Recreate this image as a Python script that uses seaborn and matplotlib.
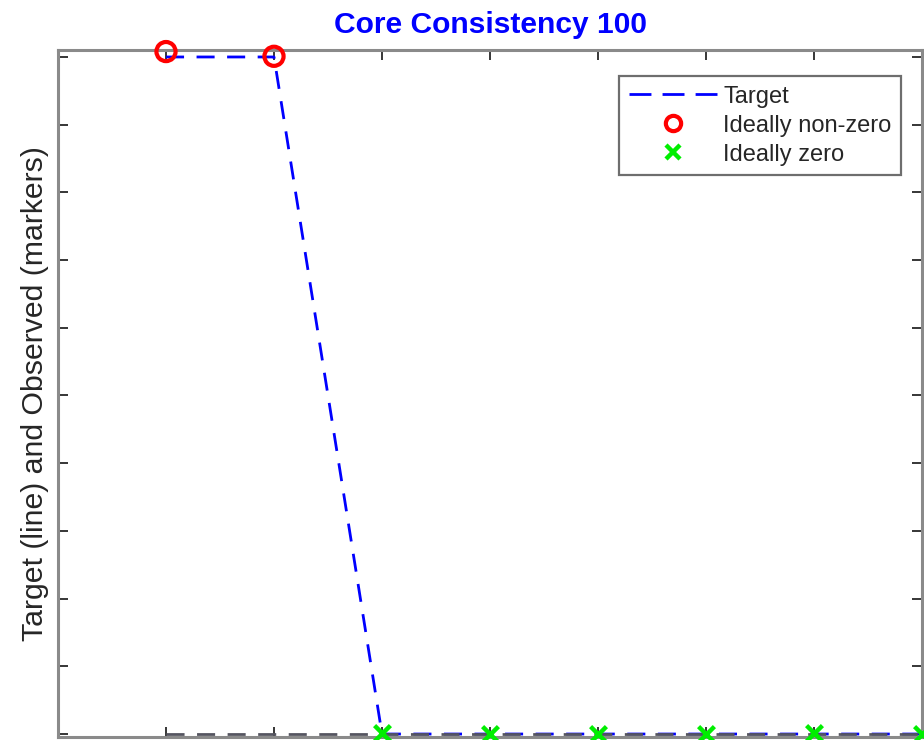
import numpy as np
import pandas as pd
import seaborn as sns
import matplotlib.pyplot as plt
from matplotlib.lines import Line2D

# core element index, target core (superdiagonal) and observed core values
core_idx = [1, 2, 3, 4, 5, 6, 7, 8]
target = [1, 1, 0, 0, 0, 0, 0, 0]
observed = [1.008, 1.001, 0.001, 0.0, 0.0, 0.0, 0.001, 0.0]
nonzero_idx = [1, 2]
zero_idx = [3, 4, 5, 6, 7, 8]
title = "Core Consistency 100"

df = pd.DataFrame({"idx": core_idx, "target": target, "observed": observed})
df_nz = df[df["idx"].isin(nonzero_idx)]
df_z = df[df["idx"].isin(zero_idx)]
df_zero = pd.DataFrame({"idx": [min(core_idx), max(core_idx)], "y": [0, 0]})

sns.set_style("white")
plt.rcParams["font.family"] = ["Liberation Sans", "DejaVu Sans"]

fig = plt.figure(figsize=(9.24, 7.4), dpi=100)
ax = fig.add_axes([58 / 924, 3 / 740, (922 - 58) / 924, (737 - 50) / 740])

DASH = (6.5, 4.5)
sns.lineplot(data=df, x="idx", y="target", ax=ax, color="#0000ff", linewidth=2.0,
             dashes=False, label="Target", zorder=3)
ax.lines[-1].set_dashes(DASH)
sns.lineplot(data=df_zero, x="idx", y="y", ax=ax, color="#555560", linewidth=2.0,
             dashes=False, zorder=4, legend=False)
ax.lines[-1].set_dashes(DASH)

sns.scatterplot(data=df_nz, x="idx", y="observed", ax=ax, marker="o", s=190,
                facecolors="none", edgecolor="#ff0000", linewidth=3,
                label="Ideally non-zero", zorder=5, clip_on=False)
sns.scatterplot(data=df_z, x="idx", y="observed", ax=ax, marker="x", s=130,
                color="#00ee00", linewidth=3.2, label="Ideally zero", zorder=5,
                clip_on=False)

ax.set_xlim(0, 8)
ax.set_ylim(-0.0044, 1.0103)
ax.set_xticks(range(0, 9))
ax.set_yticks(np.arange(0, 1.01, 0.1))
ax.set_xticklabels([])
ax.set_yticklabels([])
ax.set_xlabel("")
ax.set_ylabel("Target (line) and Observed (markers)", fontsize=21.8,
              color="#262626", labelpad=3)
ax.set_title(title, fontsize=21.6, fontweight="bold", color="#0000ff", pad=12)

for sp in ax.spines.values():
    sp.set_visible(True)
    sp.set_color("#8a8a8a")
    sp.set_linewidth(2.2)
ax.tick_params(direction="in", length=7, width=1.3, color="#262626",
               top=True, right=True, bottom=True, left=True)

leg_handles = [
    Line2D([], [], color="#0000ff", linewidth=2.0, dashes=(7.9, 4)),
    Line2D([], [], linestyle="none", marker="o", markersize=11, markerfacecolor="none",
           markeredgecolor="#ff0000", markeredgewidth=3),
    Line2D([], [], linestyle="none", marker="x", markersize=9.5, color="#00ee00",
           markeredgewidth=3.2),
]
leg = ax.legend(leg_handles, ["Target", "Ideally non-zero", "Ideally zero"],
                loc="upper right", bbox_to_anchor=(0.9757, 0.962), borderaxespad=0,
                fontsize=17, fancybox=False, framealpha=1, edgecolor="#6e6e6e",
                handlelength=3.75, handletextpad=0.25, borderpad=0.4,
                labelspacing=0.3)
leg.get_frame().set_linewidth(1.6)
for t in leg.get_texts():
    t.set_color("#262626")

fig.savefig("out.png", dpi=100)
